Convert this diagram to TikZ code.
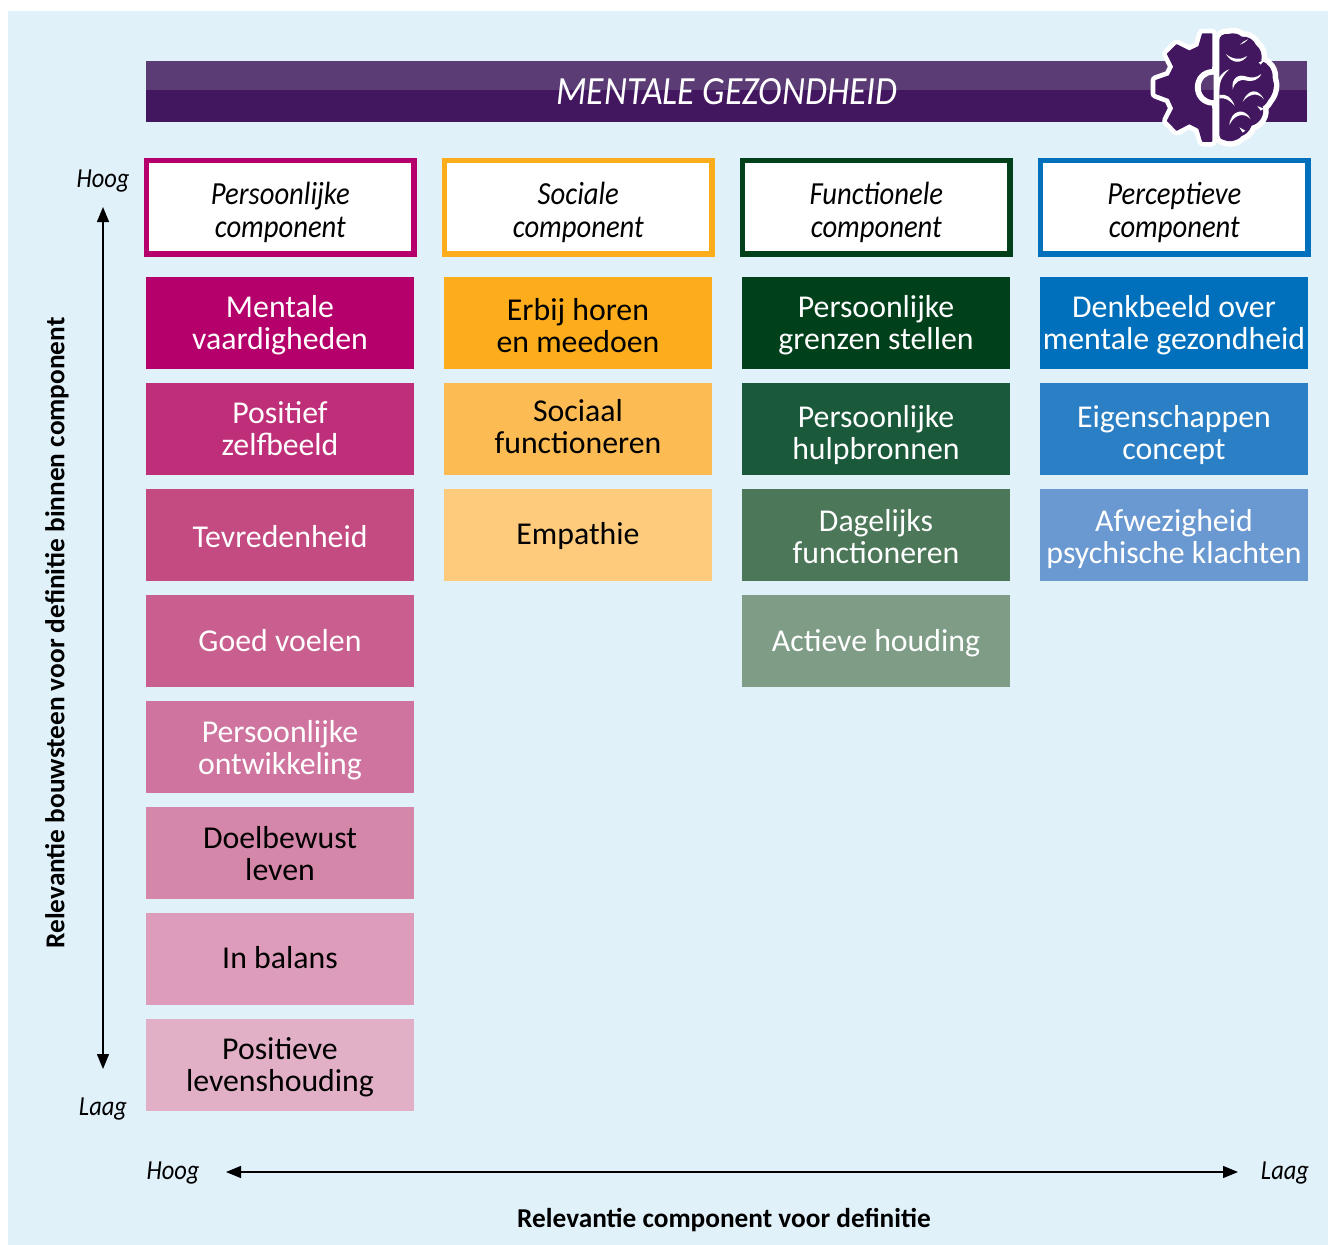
\documentclass[tikz,border=0pt]{standalone}
\usepackage{fontspec}
\setmainfont{Carlito}
\newfontface\narrowit{Carlito Italic}[FakeStretch=0.89]
\usetikzlibrary{arrows.meta, positioning, calc}
\definecolor{bgblue}{HTML}{E0F1FA}
\definecolor{bandlight}{HTML}{5B3C74}
\definecolor{banddark}{HTML}{42175F}
\definecolor{headP}{HTML}{B5006B}
\definecolor{headS}{HTML}{FDAD1C}
\definecolor{headF}{HTML}{00401B}
\definecolor{headW}{HTML}{0070BC}
\tikzset{
  block/.style={minimum width=268pt, minimum height=92pt, inner sep=0pt},
  blocktext/.style={inner sep=0pt, align=center, font=\fontsize{31.8}{32}\selectfont},
  head/.style={draw=#1, fill=white, line width=5.3pt, minimum width=267.4pt, minimum height=93.4pt, inner sep=0pt},
  headtext/.style={inner sep=0pt, align=center, font=\fontsize{32.2}{33}\selectfont\narrowit},
  axislabel/.style={inner sep=0pt, font=\fontsize{27.5}{28}\selectfont\narrowit},
  axistitle/.style={inner sep=0pt, font=\fontsize{27.3}{28}\selectfont\bfseries},
  axisline/.style={line width=1.4pt, {Triangle[length=15pt,width=12pt]}-{Triangle[length=15pt,width=12pt]}}
}
\begin{document}
\begin{tikzpicture}[x=1pt,y=-1pt]
\useasboundingbox (0,0) rectangle (1328,1245);
\fill[white] (0,0) rectangle (1328,1245);
\fill[bgblue] (8,11) rectangle (1328,1245);

% Banner
\fill[banddark] (146,61) rectangle (1307,122);
\fill[bandlight] (146,61) rectangle (1307,90);
\node[inner sep=0pt, text=white, font=\fontsize{40}{41}\selectfont\narrowit] (title) at (727,92) {MENTALE GEZONDHEID};

% Icon
\begin{scope}[shift={(1100,10)},scale=1/3]
\def\gearline{(335,72) -- (308,72) -- (297,110) -- (268,124) -- (230,105) -- (203,132) -- (222,170)
  -- (208,198) -- (168,212) -- (168,250) -- (208,265) -- (222,295) -- (203,332) -- (230,360)
  -- (268,340) -- (297,355) -- (308,393) -- (335,393)}
\def\brainline{(358,90) .. controls (358,78) and (370,70) .. (385,72) .. controls (400,68) and (415,70) .. (425,80)
  .. controls (445,78) and (462,90) .. (468,105) .. controls (482,115) and (488,135) .. (484,152)
  .. controls (505,160) and (520,180) .. (518,205) .. controls (525,225) and (522,250) .. (505,270)
  .. controls (500,280) and (495,285) .. (488,290) .. controls (495,315) and (480,340) .. (455,347)
  .. controls (448,365) and (435,375) .. (425,378) .. controls (410,395) and (385,397) .. (372,390)
  .. controls (362,388) and (358,382) .. (358,375) -- cycle}
\draw[white, line width=11pt, line join=round] \gearline -- cycle;
\draw[white, line width=11pt, line join=round] \brainline;
\filldraw[banddark, line width=1.5pt, line join=round] (335,72) -- (308,72) -- (297,110) -- (268,124) -- (230,105) -- (203,132) -- (222,170)
  -- (208,198) -- (168,212) -- (168,250) -- (208,265) -- (222,295) -- (203,332) -- (230,360)
  -- (268,340) -- (297,355) -- (308,393) -- (335,393) -- (335,284)
  .. controls (266,284) and (266,180) .. (335,180) -- cycle;
\fill[banddark] \brainline;
\fill[white] (337,170) rectangle (358,295);
\draw[white, line width=6pt] (340,278) .. controls (278,278) and (278,186) .. (340,186);
\begin{scope}
\clip (341,270) .. controls (290,270) and (290,194) .. (341,194) -- cycle;
\fill[bandlight] (280,190) rectangle (345,240);
\fill[banddark] (280,240) rectangle (345,275);
\end{scope}
% Sulci
\begin{scope}[white]
\fill (378,132) .. controls (395,162) and (425,162) .. (442,138) .. controls (425,150) and (398,150) .. cycle;
\fill (398,238) .. controls (393,205) and (415,190) .. (440,200) .. controls (455,205) and (470,203) .. (484,192)
  .. controls (475,212) and (455,215) .. (440,212) .. controls (420,205) and (405,215) .. cycle;
\fill (428,275) .. controls (445,235) and (475,235) .. (492,268) .. controls (475,248) and (450,248) .. cycle;
\fill (388,345) .. controls (392,300) and (435,290) .. (452,328) .. controls (435,308) and (405,310) .. cycle;
\fill (358,255) .. controls (378,250) and (395,262) .. (404,288) .. controls (390,270) and (375,263) .. (358,265) -- cycle;
\fill (345,240) .. controls (348,210) and (365,185) .. (388,178) .. controls (372,192) and (358,210) .. (358,240) -- cycle;
\fill (420,104) .. controls (428,96) and (436,90) .. (444,88) .. controls (438,95) and (430,102) .. cycle;
\fill (476,158) -- (498,146) -- (482,164) -- cycle;
\fill (472,288) -- (492,296) -- (482,302) -- cycle;
\fill (418,352) -- (436,362) -- (428,368) -- cycle;
\end{scope}
\end{scope}

% Component headers
\foreach \n/\x/\lab in {P/280.3/Persoonlijke, S/578.3/Sociale, F/876.3/Functionele, W/1174.3/Perceptieve} {
  \node[head=head\n] (comp\n) at (\x,207.3) {};
  \node[headtext] (comptext\n) at (\x,212) {\lab\\component};
}

% Persoonlijke blocks
\foreach \i/\c/\t/\dy/\lab in {
  1/B5006B/white/2/{Mentale\\vaardigheden},
  2/BF2E78/white/0/{Positief\\zelfbeeld},
  3/C44A82/white/2/{Tevredenheid},
  4/C95F8F/white/0/{Goed voelen},
  5/CF749F/white/3/{Persoonlijke\\ontwikkeling},
  6/D587A9/black/1/{Doelbewust\\leven},
  7/DD9CB9/black/-1/{In balans},
  8/E2B0C6/black/2/{Positieve\\levenshouding}} {
  \definecolor{fillc}{HTML}{\c}
  \node[block, fill=fillc] (blockP\i) at (280,{323+106*(\i-1)}) {};
  \node[blocktext, text=\t] (textP\i) at (280,{323+106*(\i-1)+\dy}) {\lab};
}
% Sociale blocks
\foreach \i/\c/\dy/\lab in {
  1/FDAD1C/3/{Erbij horen\\en meedoen},
  2/FDBC53/-2/{Sociaal\\functioneren},
  3/FECB7C/1/{Empathie}} {
  \definecolor{fillc}{HTML}{\c}
  \node[block, fill=fillc] (blockS\i) at (578,{323+106*(\i-1)}) {};
  \node[blocktext, text=black] (textS\i) at (578,{323+106*(\i-1)+\dy}) {\lab};
}
% Functionele blocks
\foreach \i/\c/\dy/\lab in {
  1/00401B/2/{Persoonlijke\\grenzen stellen},
  2/1A5A3B/6/{Persoonlijke\\hulpbronnen},
  3/4C7759/2/{Dagelijks\\functioneren},
  4/7F9C87/2/{Actieve houding}} {
  \definecolor{fillc}{HTML}{\c}
  \node[block, fill=fillc] (blockF\i) at (876,{323+106*(\i-1)}) {};
  \node[blocktext, text=white] (textF\i) at (876,{323+106*(\i-1)+\dy}) {\lab};
}
% Perceptieve blocks
\foreach \i/\c/\dy/\lab in {
  1/0070BC/2/{Denkbeeld over\\mentale gezondheid},
  2/2B80C5/6/{Eigenschappen\\concept},
  3/6A98D0/4/{Afwezigheid\\psychische klachten}} {
  \definecolor{fillc}{HTML}{\c}
  \node[block, fill=fillc] (blockW\i) at (1174,{323+106*(\i-1)}) {};
  \node[blocktext, text=white] (textW\i) at (1174,{323+106*(\i-1)+\dy}) {\lab};
}

% Vertical axis
\node[axislabel] (vhoog) at (103,181) {Hoog};
\node[axislabel] (vlaag) at (103,1109) {Laag};
\coordinate (vtop) at (103,207);
\coordinate (vbot) at (103,1069);
\draw[axisline] (vtop) -- (vbot);
\node[axistitle, rotate=90] (vtitle) at (57,633) {Relevantie bouwsteen voor definitie binnen component};

% Horizontal axis
\node[axislabel] (hhoog) at (173,1173) {Hoog};
\node[axislabel] (hlaag) at (1285,1173) {Laag};
\coordinate (hleft) at (226,1172);
\coordinate (hright) at (1238,1172);
\draw[axisline] (hleft) -- (hright);
\node[axistitle] (htitle) at (724,1220) {Relevantie component voor definitie};
\end{tikzpicture}
\end{document}
